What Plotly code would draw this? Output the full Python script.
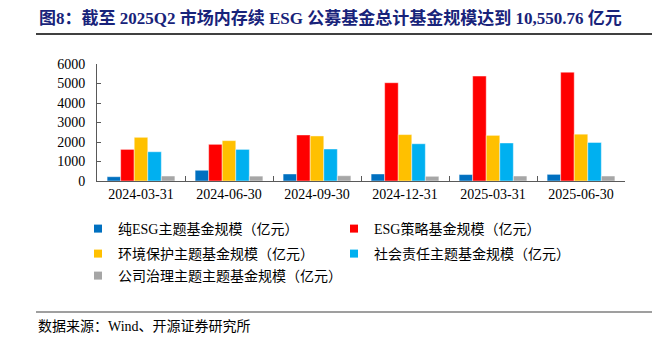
import plotly.graph_objects as go

# Quarter-end dates on the category axis
dates = ["2024-03-31", "2024-06-30", "2024-09-30", "2024-12-31", "2025-03-31", "2025-06-30"]

# Fund sizes (亿元) per theme
pure_esg = [220, 550, 360, 360, 330, 340]
esg_strategy = [1620, 1880, 2360, 5040, 5380, 5580]
environment = [2240, 2070, 2310, 2380, 2340, 2400]
social = [1500, 1620, 1640, 1910, 1950, 1975]
governance = [255, 250, 270, 240, 255, 255]

series_names = [
    "纯ESG主题基金规模（亿元）",
    "ESG策略基金规模（亿元）",
    "环境保护主题基金规模（亿元）",
    "社会责任主题基金规模（亿元）",
    "公司治理主题主题基金规模（亿元）",
]
series_values = [pure_esg, esg_strategy, environment, social, governance]
series_colors = ["#0070C0", "#FF0000", "#FFC000", "#00B0F0", "#A6A6A6"]
# legend row each series sits on (two entries per row)
legend_rows = ["legend", "legend", "legend2", "legend2", "legend3"]

title_text = "图8：截至 2025Q2 市场内存续 ESG 公募基金总计基金规模达到 10,550.76 亿元"
source_text = "数据来源：Wind、开源证券研究所"

FONT = "Liberation Serif, Noto Sans CJK SC, serif"

W, H = 654, 339
L, R, T, B = 97, 29, 64, 158
PW, PH = W - L - R, H - T - B


def px_x(p):
    return (p - L) / PW


def px_y(p):
    return (H - B - p) / PH


fig = go.Figure()

for name, vals, col in zip(series_names, series_values, series_colors):
    fig.add_trace(go.Bar(
        x=dates, y=vals, name=name, showlegend=False,
        marker=dict(color=col, line=dict(color="rgba(255,255,255,0.55)", width=0.8)),
    ))

# Legend entries with small square swatches
for name, col, lg in zip(series_names, series_colors, legend_rows):
    fig.add_trace(go.Scatter(
        x=[None], y=[None], mode="markers", name=name, legend=lg,
        marker=dict(symbol="square", size=8, color=col),
    ))


def legend_row(top_px, two_columns=True):
    row = dict(
        orientation="h",
        x=px_x(78), xanchor="left",
        y=px_y(top_px), yanchor="top",
        font=dict(family=FONT, size=14, color="#000000"),
        itemclick=False, itemdoubleclick=False,
        bgcolor="rgba(0,0,0,0)",
    )
    if two_columns:
        row.update(entrywidth=211, entrywidthmode="pixels")
    return row


fig.update_layout(
    width=W, height=H,
    margin=dict(l=L, r=R, t=T, b=B, pad=0),
    paper_bgcolor="white", plot_bgcolor="white",
    barmode="group", bargap=0.23, bargroupgap=0,
    font=dict(family=FONT, size=14, color="#000000"),
    showlegend=True,
    legend=legend_row(213),
    legend2=legend_row(238),
    legend3=legend_row(260, two_columns=False),
    xaxis=dict(
        type="category",
        showline=True, linecolor="#595959", linewidth=1,
        ticks="inside", ticklen=5, tickcolor="#595959",
        tickson="boundaries",
        tickfont=dict(family=FONT, size=14, color="#000000"),
        showgrid=False, zeroline=False,
    ),
    yaxis=dict(
        range=[0, 6000], dtick=1000,
        showline=True, linecolor="#595959", linewidth=1,
        ticks="inside", ticklen=4, tickcolor="#595959",
        tickfont=dict(family=FONT, size=14, color="#000000"),
        showgrid=False, zeroline=False,
        ticklabelstandoff=8,
    ),
    annotations=[
        dict(
            text="<b>" + title_text + "</b>",
            xref="paper", yref="paper",
            x=px_x(37), y=px_y(18), xanchor="left", yanchor="middle",
            showarrow=False,
            font=dict(family=FONT, size=17, color="#18237A"),
        ),
        dict(
            text=source_text,
            xref="paper", yref="paper",
            x=px_x(36), y=px_y(326), xanchor="left", yanchor="middle",
            showarrow=False,
            font=dict(family=FONT, size=14, color="#000000"),
        ),
    ],
    shapes=[
        dict(type="line", xref="paper", yref="paper",
             x0=px_x(36), x1=px_x(652), y0=px_y(34), y1=px_y(34),
             line=dict(color="#000000", width=1.5)),
        dict(type="line", xref="paper", yref="paper",
             x0=px_x(36), x1=px_x(652), y0=px_y(312), y1=px_y(312),
             line=dict(color="#7F7F7F", width=1.5)),
    ],
)

fig.write_html("out.html")
